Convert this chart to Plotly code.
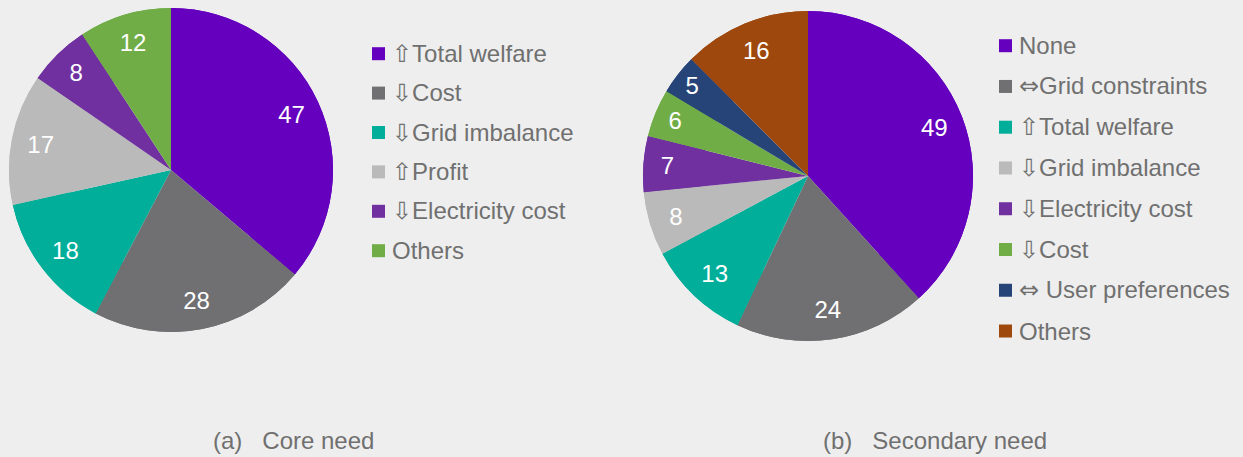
import plotly.graph_objects as go

core_labels = ["⇧Total welfare", "⇩Cost", "⇩Grid imbalance", "⇧Profit", "⇩Electricity cost", "Others"]
core_values = [47, 28, 18, 17, 8, 12]
core_colors = ["#6400BE", "#706F72", "#00AE9A", "#B9BAB9", "#7030A0", "#70AD47"]

sec_labels = ["None", "⇔Grid constraints", "⇧Total welfare", "⇩Grid imbalance", "⇩Electricity cost",
              "⇩Cost", "⇔ User preferences", "Others"]
sec_values = [49, 24, 13, 8, 7, 6, 5, 16]
sec_colors = ["#6400BE", "#706F72", "#00AE9A", "#B9BAB9", "#7030A0", "#70AD47", "#264478", "#9E480E"]

captions = ["(a)   Core need", "(b)   Secondary need"]

W, H = 1243, 457
BG = "#EEEEEE"
TXT = "#707070"
FONT = "Liberation Sans, Arial, sans-serif"
ARROW_FONT = "DejaVu Sans"
ARROWS = "⇧⇩⇔"


def fmt(label):
    out = ""
    for ch in label:
        if ch in ARROWS:
            out += f"<span style='font-family:{ARROW_FONT};font-size:24px'>{ch}</span>"
        else:
            out += ch
    return out


fig = go.Figure()

pies = [
    (core_labels, core_values, core_colors, [9 / W, 333 / W], [1 - 332 / H, 1 - 8 / H]),
    (sec_labels, sec_values, sec_colors, [643 / W, 973 / W], [1 - 341 / H, 1 - 11 / H]),
]
for i, (labels, values, colors, dx, dy) in enumerate(pies):
    ids = [f"p{i}-{k}" for k in range(len(labels))]
    # full disc underneath
    fig.add_trace(go.Pie(
        labels=ids, values=values, sort=False, direction="clockwise", rotation=0,
        marker=dict(colors=colors, line=dict(width=0)),
        textinfo="none", domain=dict(x=dx, y=dy), showlegend=False,
        hovertext=labels, hoverinfo="text+value",
    ))
    # ring on top carries the value labels at ~0.82 radius
    fig.add_trace(go.Pie(
        labels=ids, values=values, sort=False, direction="clockwise", rotation=0, hole=0.64,
        marker=dict(colors=colors, line=dict(width=0)),
        textinfo="value", textposition="inside", insidetextorientation="horizontal",
        textfont=dict(color="white", size=24, family=FONT),
        domain=dict(x=dx, y=dy), showlegend=False,
        hovertext=labels, hoverinfo="text+value",
    ))

# legends drawn as annotations + colour squares
legends = [
    (core_labels, core_colors, 372, 53.7, 39.4),
    (sec_labels, sec_colors, 999, 45.7, 40.76),
]
annotations = []
shapes = []
for labels, colors, x0, y0, step in legends:
    for k, (lab, col) in enumerate(zip(labels, colors)):
        yc = y0 + k * step
        shapes.append(dict(type="rect", xref="paper", yref="paper",
                           x0=x0 / W, x1=(x0 + 13) / W,
                           y0=1 - (yc + 6.5) / H, y1=1 - (yc - 6.5) / H,
                           fillcolor=col, line=dict(width=0)))
        annotations.append(dict(text=fmt(lab), x=(x0 + 18) / W, y=1 - (yc + 0) / H,
                                xref="paper", yref="paper", xanchor="left", yanchor="middle",
                                showarrow=False, font=dict(size=24, color=TXT, family=FONT)))

for cap, cx in zip(captions, [293, 935]):
    annotations.append(dict(text=cap, x=cx / W, y=1 - 440 / H, xref="paper", yref="paper",
                            xanchor="center", yanchor="middle",
                            showarrow=False, font=dict(size=24, color=TXT, family=FONT)))

fig.update_layout(
    width=W, height=H,
    paper_bgcolor=BG, plot_bgcolor=BG,
    margin=dict(l=0, r=0, t=0, b=0),
    showlegend=False,
    annotations=annotations,
    shapes=shapes,
)
fig.write_html("out.html", config={"displayModeBar": False},
               post_script="document.body.style.margin='0';document.body.style.background='#EEEEEE';")
